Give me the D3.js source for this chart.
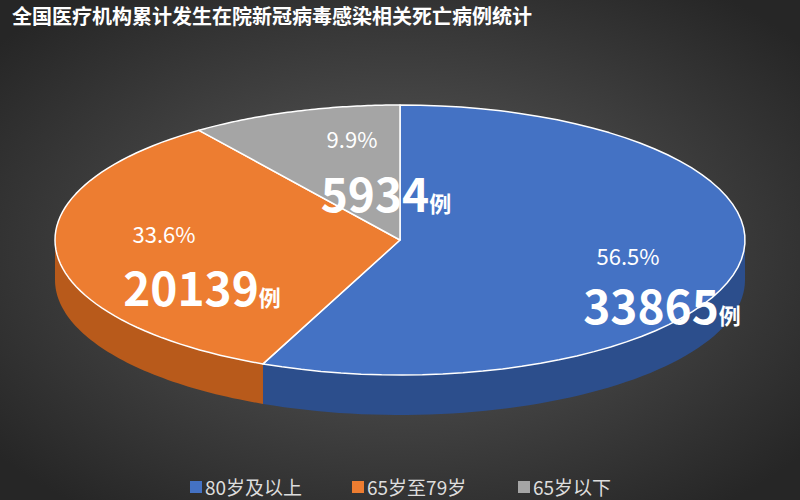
<!DOCTYPE html><html><head><meta charset="utf-8"><script src="https://cdn.jsdelivr.net/npm/d3@7"></script>
<style>body{margin:0}svg{display:block}</style></head><body><svg width="800" height="500"></svg><script>
const categories=["80岁及以上","65岁至79岁","65岁以下"];
const counts=[33865,20139,5934];
const percents=["56.5%","33.6%","9.9%"];
const colors=["#4472C4","#ED7D31","#A5A5A5"];
const sideColors=["#2C4E8C","#B85A1B","#777"];
const title="全国医疗机构累计发生在院新冠病毒感染相关死亡病例统计";
const svg=d3.select("svg");
const defs=svg.append("defs");
const rg=defs.append("radialGradient").attr("id","bg").attr("cx","50%").attr("cy","50%").attr("r","65%");
rg.append("stop").attr("offset","0%").attr("stop-color","#5e5e5e");
rg.append("stop").attr("offset","100%").attr("stop-color","#262626");
svg.append("rect").attr("width",800).attr("height",500).attr("fill","url(#bg)");
svg.append("text").attr("x",12).attr("y",24).attr("fill","#fff").attr("font-size",20).attr("font-weight","bold")
 .attr("font-family","Noto Sans CJK SC").text(title);
const cx=400,cy=240,rx=345,ry=135,h=40;
const pie=d3.pie().sort(null).value(d=>d)(counts);
const P=(a,dy=0)=>[cx+rx*Math.sin(a),cy-ry*Math.cos(a)+dy];
function arcPts(a0,a1,dy){const n=60,pts=[];for(let i=0;i<=n;i++)pts.push(P(a0+(a1-a0)*i/n,dy));return pts;}
const line=d3.line();
pie.forEach((s,i)=>{
 const a0=Math.max(s.startAngle,Math.PI/2),a1=Math.min(s.endAngle,3*Math.PI/2);
 if(a1<=a0)return;
 const top=arcPts(a0,a1,0),bot=arcPts(a1,a0,h);
 svg.append("path").attr("d",line(top.concat(bot))+"Z").attr("fill",sideColors[i]);
});
pie.forEach((s,i)=>{
 const pts=[[cx,cy]].concat(arcPts(s.startAngle,s.endAngle,0));
 svg.append("path").attr("d",line(pts)+"Z").attr("fill",colors[i]).attr("stroke","#fff").attr("stroke-width",1.5).attr("stroke-linejoin","round");
});
const lab=[[650,265,300],[165,243,282],[350,148,188]];
const lx=[[628,662],[164,202],[352,386]];
pie.forEach((s,i)=>{
 svg.append("text").attr("x",lx[i][0]).attr("y",lab[i][1]).attr("text-anchor","middle").attr("fill","#fff").attr("font-size",22)
  .attr("font-family","Noto Sans CJK SC").text(percents[i]);
 const t=svg.append("text").attr("x",lx[i][1]).attr("y",lab[i][2]+24).attr("text-anchor","middle").attr("fill","#fff")
  .attr("font-family","Noto Sans CJK SC").attr("font-weight","bold");
 t.append("tspan").attr("font-size",46).text(counts[i]);
 t.append("tspan").attr("font-size",22).text("例");
});
const lg=[[190,"80岁及以上"],[352,"65岁至79岁"],[518,"65岁以下"]];
lg.forEach((d,i)=>{
 svg.append("rect").attr("x",d[0]).attr("y",481).attr("width",12).attr("height",12).attr("fill",colors[i]);
 svg.append("text").attr("x",d[0]+15).attr("y",495).attr("fill","#ddd").attr("font-size",19).attr("font-family","Noto Sans CJK SC").text(categories[i]);
});
</script></body></html>
